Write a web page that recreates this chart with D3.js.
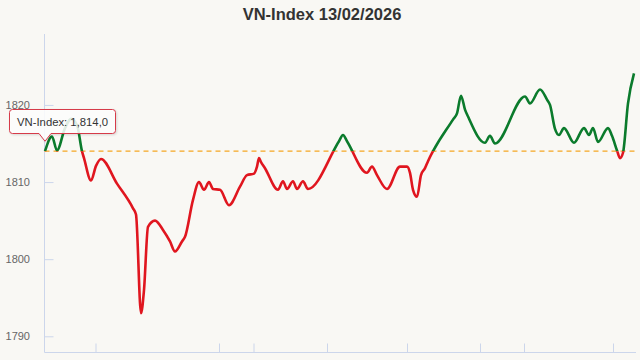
<!DOCTYPE html>
<html>
<head>
<meta charset="utf-8">
<script src="https://cdn.jsdelivr.net/npm/d3@7"></script>
<style>
  body { margin: 0; background: #f9f8f4; }
  svg { font-family: "Liberation Sans", Arial, sans-serif; }
</style>
</head>
<body>
<div class="graph"></div>
<script>
// intraday steps and index values
const times = [0, 7, 12, 20, 26, 32, 37, 39, 46, 51, 56, 72, 88, 91, 96, 99, 103, 110, 118, 125,
  130, 137, 140, 148, 154, 159, 164, 168, 175, 184, 195, 202, 209, 212, 214, 216, 220, 233, 238, 242, 248, 252,
  258, 263, 294, 298, 302, 322, 327, 332, 342, 355, 362, 365, 368, 372, 376, 380, 383, 408, 412, 416, 420, 423,
  440, 445, 450, 480, 485, 495, 502, 505, 510, 514, 519, 529, 539, 544, 548, 553, 563, 567, 572, 575,
  578, 583, 589];
const values = [1814.0, 1815.9, 1814.1, 1817.0, 1818.2, 1817.4, 1814.0, 1813.1, 1810.2, 1812.1,
  1813.0, 1809.8, 1806.6, 1805.8, 1793.0, 1796.0, 1804.2, 1805.0, 1803.8, 1802.3,
  1801.0, 1802.3, 1802.9, 1807.7, 1810.0, 1809.0, 1810.0, 1809.1, 1809.0, 1807.0,
  1809.4, 1810.9, 1811.1, 1812.0, 1813.1, 1812.6, 1811.8, 1809.0, 1810.1, 1809.1, 1810.1, 1809.1,
  1810.1, 1809.1, 1815.3, 1816.1, 1815.3, 1811.2, 1812.0, 1810.9, 1809.1, 1812.0, 1812.0, 1811.2,
  1809.0, 1808.1, 1810.9, 1811.8, 1812.7, 1818.1, 1818.9, 1821.2, 1819.4, 1818.5,
  1815.1, 1816.0, 1815.0, 1821.1, 1820.2, 1822.0, 1820.7, 1820.0, 1816.9, 1816.1,
  1817.0, 1815.1, 1817.0, 1816.1, 1817.0, 1815.2, 1817.0, 1816.0, 1814.1, 1813.1,
  1813.8, 1820.2, 1824.1];
const xTicks = [50.5, 174, 208.5, 282, 362, 435, 479, 568];
const yTicks = [1790, 1800, 1810, 1820];
const refValue = 1814.0;
const title = "VN-Index 13/02/2026";

let width = 640;
let height = 360;
let plotLeft = 44.5, plotRight = 636, plotTop = 34, plotBottom = 352.5;

let svg = d3.select(".graph")
  .append("svg")
  .attr("width", width)
  .attr("height", height);

svg.append("rect").attr("width", width).attr("height", height).attr("fill", "#f9f8f4");

let x = d3.scaleLinear().domain([0, 589]).range([plotLeft + 0.5, 634]);
let y = d3.scaleLinear().domain([1787.9, 1829.2]).range([plotBottom, plotTop]);

let data = times.map((t, i) => ({ t: t, v: values[i] }));

// title
svg.append("text")
  .attr("x", 322)
  .attr("y", 20)
  .attr("text-anchor", "middle")
  .attr("font-size", 16.5)
  .attr("font-weight", "bold")
  .attr("fill", "#333")
  .text(title);

// axes lines
let axisColor = "#ccd6eb";
svg.append("line")
  .attr("x1", plotLeft).attr("x2", plotLeft)
  .attr("y1", plotTop).attr("y2", plotBottom)
  .attr("stroke", axisColor);
svg.append("line")
  .attr("x1", plotLeft).attr("x2", plotRight)
  .attr("y1", plotBottom).attr("y2", plotBottom)
  .attr("stroke", axisColor);

// y ticks pointing inside
let yAxis = svg.append("g")
  .attr("transform", "translate(" + plotLeft + ",0)")
  .call(d3.axisRight(y).tickValues(yTicks).tickSize(9).tickFormat(""));
yAxis.select(".domain").remove();
yAxis.selectAll("line").attr("stroke", axisColor);

svg.selectAll(".ylab")
  .data(yTicks)
  .enter().append("text")
  .attr("class", "ylab")
  .attr("x", 30)
  .attr("y", d => y(d) + 4)
  .attr("text-anchor", "end")
  .attr("font-size", 11)
  .attr("fill", "#666")
  .text(d => d);

// x ticks pointing up
let xAxis = svg.append("g")
  .attr("transform", "translate(0," + plotBottom + ")")
  .call(d3.axisTop(x).tickValues(xTicks).tickSize(9).tickFormat(""));
xAxis.select(".domain").remove();
xAxis.selectAll("line").attr("stroke", axisColor);

// reference line
svg.append("line")
  .attr("x1", plotLeft).attr("x2", plotRight)
  .attr("y1", y(refValue)).attr("y2", y(refValue))
  .attr("stroke", "#f5a623")
  .attr("stroke-width", 1.2)
  .attr("stroke-dasharray", "5,4");

// line, green above reference and red below
let defs = svg.append("defs");
defs.append("clipPath").attr("id", "above")
  .append("rect").attr("x", 0).attr("y", 0).attr("width", width).attr("height", y(refValue));
defs.append("clipPath").attr("id", "below")
  .append("rect").attr("x", 0).attr("y", y(refValue)).attr("width", width).attr("height", height);

let line = d3.line()
  .x(d => x(d.t))
  .y(d => y(d.v))
  .curve(d3.curveMonotoneX);

svg.append("path")
  .datum(data)
  .attr("clip-path", "url(#above)")
  .attr("fill", "none")
  .attr("stroke", "#0b7b2c")
  .attr("stroke-width", 2.6)
  .attr("stroke-linejoin", "round")
  .attr("d", line);

svg.append("path")
  .datum(data)
  .attr("clip-path", "url(#below)")
  .attr("fill", "none")
  .attr("stroke", "#e0161f")
  .attr("stroke-width", 2.6)
  .attr("stroke-linejoin", "round")
  .attr("d", line);

// tooltip
let shadow = defs.append("filter").attr("id", "shadow");
shadow.append("feDropShadow").attr("dx", 1).attr("dy", 1).attr("stdDeviation", 1)
  .attr("flood-color", "#000").attr("flood-opacity", 0.15);

let tipX = x(data[0].t), tipY = y(data[0].v) - 10;
let bx0 = 9.5, bx1 = 115.5, by0 = 109.5, by1 = 133.5, r = 3;
let tipPath = "M" + (bx0 + r) + "," + by0 +
  " L" + (bx1 - r) + "," + by0 + " Q" + bx1 + "," + by0 + " " + bx1 + "," + (by0 + r) +
  " L" + bx1 + "," + (by1 - r) + " Q" + bx1 + "," + by1 + " " + (bx1 - r) + "," + by1 +
  " L" + (tipX + 6) + "," + by1 + " L" + tipX + "," + tipY + " L" + (tipX - 6) + "," + by1 +
  " L" + (bx0 + r) + "," + by1 + " Q" + bx0 + "," + by1 + " " + bx0 + "," + (by1 - r) +
  " L" + bx0 + "," + (by0 + r) + " Q" + bx0 + "," + by0 + " " + (bx0 + r) + "," + by0 + " Z";

svg.append("path")
  .attr("d", tipPath)
  .attr("fill", "rgba(255,255,255,0.85)")
  .attr("stroke", "#d63a4a")
  .attr("stroke-width", 1)
  .attr("filter", "url(#shadow)");

svg.append("text")
  .attr("x", 17)
  .attr("y", 126)
  .attr("font-size", 11.3)
  .attr("fill", "#333")
  .text("VN-Index: " + d3.format(",.1f")(data[0].v).replace(".", ","));
</script>
</body>
</html>
